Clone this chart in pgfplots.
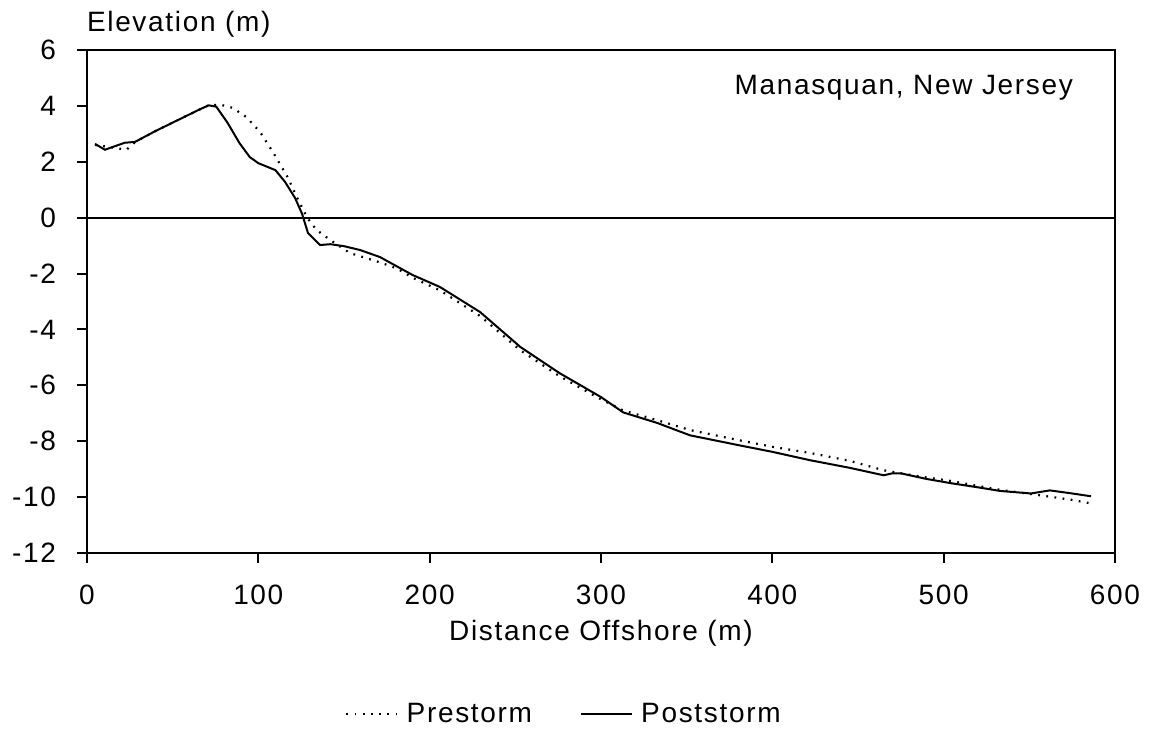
\documentclass[border=0pt]{standalone}
\usepackage{pgfplots}
\pgfplotsset{compat=1.18}
\usepackage{fontspec}
\setmainfont{Liberation Sans}[LetterSpace=6]

\begin{document}
\begin{tikzpicture}
\begin{axis}[
    scale only axis,
    width=514pt, height=251.5pt,
    xmin=0, xmax=600, ymin=-12, ymax=6,
    xtick={0,100,...,600}, ytick={-12,-10,...,6},
    tick align=outside, tick pos=left,
    major tick length=5pt,
    axis line style={line width=1pt},
    every tick/.style={line width=1pt, black},
    /pgf/number format/assume math mode=true,
    ticklabel style={font=\fontsize{14}{16}\selectfont},
    xticklabel style={yshift=-7.5pt},
    yticklabel style={xshift=-7pt},
    label style={font=\fontsize{14}{16}\selectfont},
    xlabel={Distance Offshore (m)},
    xlabel style={at={(axis description cs:0.5,-0.16)}, anchor=center},
    ylabel={Elevation (m)},
    ylabel style={rotate=-90, at={(axis description cs:0,1.052)}, anchor=west, xshift=-3.5pt},
    legend style={draw=none, at={(0.465,-0.32)}, anchor=center,
        font=\fontsize{14}{16}\selectfont, legend columns=2,
        /tikz/every even column/.append style={column sep=22pt},
        /tikz/every odd column/.append style={column sep=2pt}},
    legend image code/.code={\draw[#1] (0cm,0cm) -- (0.9cm,0cm);},
    legend cell align=left,
    clip=false,
]
\addplot[black, line width=1.1pt, dash pattern=on 0.9pt off 3.2pt] coordinates {
(4.7,2.6)(13,2.53)(23,2.43)(28,2.7)(40,3.1)(55,3.55)(65,3.85)(71,4.02)(78,4.04)
(85,3.93)(93,3.6)(101,3.07)(109,2.3)(117,1.46)(122.5,0.74)(128.5,0)(134,-0.44)
(142,-0.8)(153.6,-1.27)(171,-1.6)(181,-1.82)(190,-2.15)(206,-2.6)(229.5,-3.52)
(253,-4.75)(276,-5.68)(300,-6.5)(313,-6.9)(333,-7.25)(352,-7.6)(381,-7.97)
(400,-8.2)(422,-8.42)(445,-8.7)(465,-9.04)(485,-9.25)(504,-9.42)(520,-9.6)
(533,-9.74)(558,-9.95)(575,-10.1)(588,-10.25)
};
\addlegendentry{Prestorm}
\addplot[black, line width=1pt] coordinates {
(4.7,2.64)(10.5,2.43)(16,2.55)(22,2.68)(28,2.71)(40,3.1)(55,3.55)(65,3.85)
(71,4.02)(75.5,3.97)(82,3.4)(89,2.67)(95,2.17)(100,1.95)(104,1.85)(110,1.7)
(115.6,1.28)(121.5,0.7)(125.6,0.13)(129,-0.55)(136,-0.98)(142,-0.95)(150,-1.02)
(159.5,-1.16)(171,-1.41)(190,-2.05)(206,-2.48)(229.5,-3.38)(253,-4.63)
(276,-5.57)(300,-6.42)(313,-6.97)(333,-7.35)(352,-7.79)(381,-8.15)(400,-8.38)
(422,-8.68)(445,-8.95)(465,-9.22)(470,-9.15)(475,-9.15)(490,-9.35)(504,-9.5)
(520,-9.65)(533,-9.78)(551,-9.87)(562,-9.76)(575,-9.87)(586,-9.97)
};
\addlegendentry{Poststorm}
\draw[line width=1pt] (axis cs:0,0) -- (axis cs:600,0);
\node[anchor=east, font=\fontsize{14}{16}\selectfont] at (rel axis cs:0.966,0.924) {Manasquan, New Jersey};
\coordinate (bbA) at (rel axis cs:-0.0846,-0.354);
\coordinate (bbB) at (rel axis cs:1.038,1.0994);
\end{axis}
\pgfresetboundingbox
\path[use as bounding box] (bbA) rectangle (bbB);
\end{tikzpicture}
\end{document}
